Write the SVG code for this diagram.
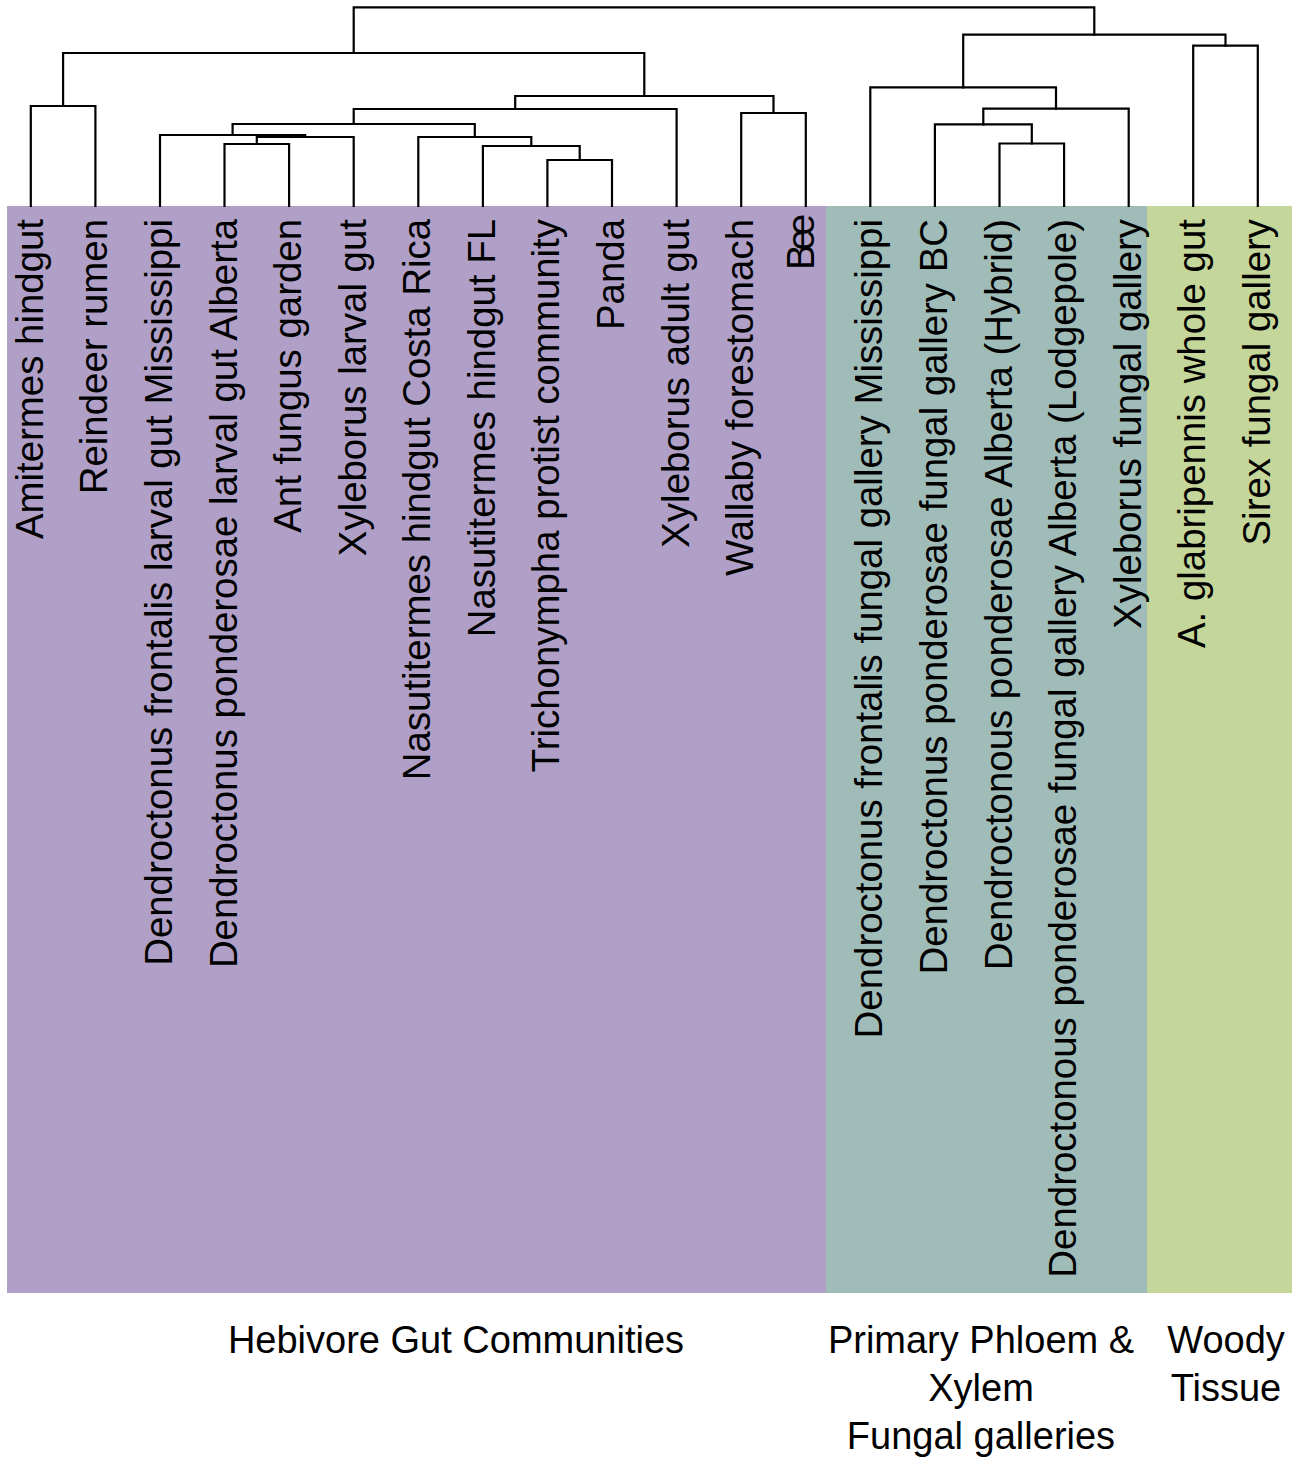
<svg xmlns="http://www.w3.org/2000/svg" width="1294" height="1458" viewBox="0 0 1294 1458">
<style>
.lf{font-family:"Liberation Sans",Arial,sans-serif;font-size:38.4px;fill:#000;text-anchor:end}
.gl{font-family:"Liberation Sans",Arial,sans-serif;font-size:38px;fill:#000;text-anchor:middle}
.br{fill:none;stroke:#000;stroke-width:2.2;stroke-linejoin:miter;stroke-linecap:square}
</style>
<rect width="1294" height="1458" fill="#ffffff"/>
<g id="bands">
<rect id="band-herbivore" x="7" y="206" width="819" height="1087" fill="#b0a0c7"/>
<rect id="band-phloem" x="826" y="206" width="321" height="1087" fill="#a0bcb9"/>
<rect id="band-woody" x="1147" y="206" width="145" height="1087" fill="#c4d69a"/>
</g>
<g id="connectors" class="br">
<path d="M30.8 206V106H95.4V206"/>
<path d="M224.5 206V144H289.1V206"/>
<path d="M256.8 144V137H353.7V206"/>
<path d="M160 206V135H305.2V137"/>
<path d="M547.4 206V160H612V206"/>
<path d="M482.9 206V146H579.7V160"/>
<path d="M418.3 206V137H531.3V146"/>
<path d="M232.6 135V124H474.8V137"/>
<path d="M353.7 124V109H676.6V206"/>
<path d="M741.2 206V113H805.8V206"/>
<path d="M515.2 109V96H773.5V113"/>
<path d="M63.1 106V53H644.3V96"/>
<path d="M999.5 206V143.5H1064.1V206"/>
<path d="M934.9 206V124.3H1031.8V143.5"/>
<path d="M983.3 124.3V108.7H1128.7V206"/>
<path d="M870.3 206V87.3H1056V108.7"/>
<path d="M1193.2 206V45.7H1257.8V206"/>
<path d="M963.2 87.3V34.7H1225.5V45.7"/>
<path d="M353.7 53V7.3H1094.3V34.7"/>
</g>
<g id="leaves">
<g id="leaf1"><text class="lf" x="42.8" y="219" transform="rotate(-90 42.8 219)">Amitermes hindgut</text></g>
<g id="leaf2"><text class="lf" x="107.4" y="219" transform="rotate(-90 107.4 219)">Reindeer rumen</text></g>
<g id="leaf3"><text class="lf" x="172" y="219" transform="rotate(-90 172 219)">Dendroctonus frontalis larval gut Mississippi</text></g>
<g id="leaf4"><text class="lf" x="236.5" y="219" transform="rotate(-90 236.5 219)">Dendroctonus ponderosae larval gut Alberta</text></g>
<g id="leaf5"><text class="lf" x="301.1" y="219" transform="rotate(-90 301.1 219)">Ant fungus garden</text></g>
<g id="leaf6"><text class="lf" x="365.7" y="219" transform="rotate(-90 365.7 219)">Xyleborus larval gut</text></g>
<g id="leaf7"><text class="lf" x="430.3" y="219" transform="rotate(-90 430.3 219)">Nasutitermes hindgut Costa Rica</text></g>
<g id="leaf8"><text class="lf" x="494.9" y="219" transform="rotate(-90 494.9 219)">Nasutitermes hindgut FL</text></g>
<g id="leaf9"><text class="lf" x="559.4" y="219" transform="rotate(-90 559.4 219)">Trichonympha protist community</text></g>
<g id="leaf10"><text class="lf" x="624" y="219" transform="rotate(-90 624 219)">Panda</text></g>
<g id="leaf11"><text class="lf" x="688.6" y="219" transform="rotate(-90 688.6 219)">Xyleborus adult gut</text></g>
<g id="leaf12"><text class="lf" x="753.2" y="219" transform="rotate(-90 753.2 219)">Wallaby forestomach</text></g>
<g id="leaf13"><text class="lf" x="813.5" y="214" transform="rotate(-90 813.5 214)" textLength="56" lengthAdjust="spacing">Bee</text></g>
<g id="leaf14"><text class="lf" x="882.3" y="219" transform="rotate(-90 882.3 219)">Dendroctonus frontalis fungal gallery Mississippi</text></g>
<g id="leaf15"><text class="lf" x="946.9" y="219" transform="rotate(-90 946.9 219)">Dendroctonus ponderosae fungal gallery BC</text></g>
<g id="leaf16"><text class="lf" x="1011.5" y="219" transform="rotate(-90 1011.5 219)">Dendroctonous ponderosae Alberta (Hybrid)</text></g>
<g id="leaf17"><text class="lf" x="1076.1" y="219" transform="rotate(-90 1076.1 219)">Dendroctonous ponderosae fungal gallery Alberta (Lodgepole)</text></g>
<g id="leaf18"><text class="lf" x="1140.7" y="219" transform="rotate(-90 1140.7 219)">Xyleborus fungal gallery</text></g>
<g id="leaf19"><text class="lf" x="1205.2" y="219" transform="rotate(-90 1205.2 219)">A. glabripennis whole gut</text></g>
<g id="leaf20"><text class="lf" x="1269.8" y="219" transform="rotate(-90 1269.8 219)">Sirex fungal gallery</text></g>
</g>
<g id="group-labels">
<g id="label-herbivore"><text class="gl" x="456" y="1353">Hebivore Gut Communities</text></g>
<g id="label-phloem"><text class="gl" x="981" y="1353">Primary Phloem &amp;</text><text class="gl" x="981" y="1401">Xylem</text><text class="gl" x="981" y="1449">Fungal galleries</text></g>
<g id="label-woody"><text class="gl" x="1226" y="1353">Woody</text><text class="gl" x="1226" y="1401">Tissue</text></g>
</g>
</svg>
